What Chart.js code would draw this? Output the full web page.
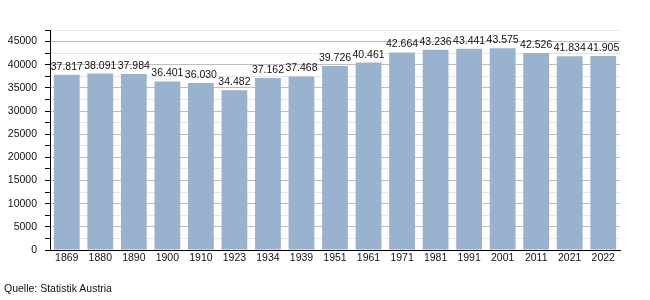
<!DOCTYPE html>
<html>
<head>
<meta charset="utf-8">
<script src="https://cdn.jsdelivr.net/npm/chart.js@4/dist/chart.umd.min.js"></script>
<style>
  html, body { margin: 0; padding: 0; background: #fff; }
  #wrap { position: relative; width: 650px; height: 300px; }
  #src { position: absolute; left: 4px; top: 282px; font: 10.5px "Liberation Sans", Arial, sans-serif; color: #111; }
</style>
</head>
<body>
<div id="wrap">
  <canvas id="c" width="650" height="300"></canvas>
  <div id="src">Quelle: Statistik Austria</div>
</div>
<script>
const years = ['1869','1880','1890','1900','1910','1923','1934','1939','1951','1961','1971','1981','1991','2001','2011','2021','2022'];
const population = [37817, 38091, 37984, 36401, 36030, 34482, 37162, 37468, 39726, 40461, 42664, 43236, 43441, 43575, 42526, 41834, 41905];
const yMin = 0, yMax = 47500, yStep = 2500, yLabelStep = 5000;

function fmtDE(v) { return String(v).replace(/\B(?=(\d{3})+(?!\d))/g, '.'); }

const FONT = '"Liberation Sans", Arial, sans-serif';

const valueLabels = {
  id: 'valueLabels',
  afterDatasetsDraw(chart) {
    const ctx = chart.ctx;
    const meta = chart.getDatasetMeta(0);
    ctx.save();
    ctx.font = '10.5px ' + FONT;
    ctx.fillStyle = '#111';
    ctx.textAlign = 'center';
    ctx.textBaseline = 'alphabetic';
    meta.data.forEach((bar, i) => {
      ctx.fillText(fmtDE(chart.data.datasets[0].data[i]), bar.x, bar.y - 5);
    });
    ctx.restore();
  }
};

new Chart(document.getElementById('c'), {
  type: 'bar',
  data: {
    labels: years,
    datasets: [{
      data: population,
      backgroundColor: '#99b3cf',
      borderWidth: 0,
      barPercentage: 0.77,
      categoryPercentage: 1.0
    }]
  },
  options: {
    responsive: false,
    animation: false,
    devicePixelRatio: 1,
    layout: { padding: { top: 30, right: 30, left: 0, bottom: 0 } },
    plugins: { legend: { display: false }, tooltip: { enabled: false } },
    scales: {
      x: {
        afterFit(s) { s.height = 50; },
        grid: { display: false, drawTicks: false },
        border: { display: true, color: '#000', width: 1 },
        ticks: { color: '#111', font: { size: 10.5, family: FONT }, padding: 2, maxRotation: 0, autoSkip: false }
      },
      y: {
        min: yMin, max: yMax,
        afterFit(s) { s.width = 50; },
        border: { display: true, color: '#000', width: 1 },
        grid: {
          color: (c) => (c.tick && c.tick.value % yLabelStep === 0) ? '#bdbdbd' : '#e6e6e6',
          tickColor: '#000',
          tickLength: 5,
          drawTicks: true
        },
        ticks: {
          stepSize: yStep,
          color: '#111',
          padding: 8,
          font: { size: 10.5, family: FONT },
          autoSkip: false,
          callback: (v) => (v % yLabelStep === 0) ? String(v) : ''
        }
      }
    }
  },
  plugins: [valueLabels]
});
</script>
</body>
</html>
